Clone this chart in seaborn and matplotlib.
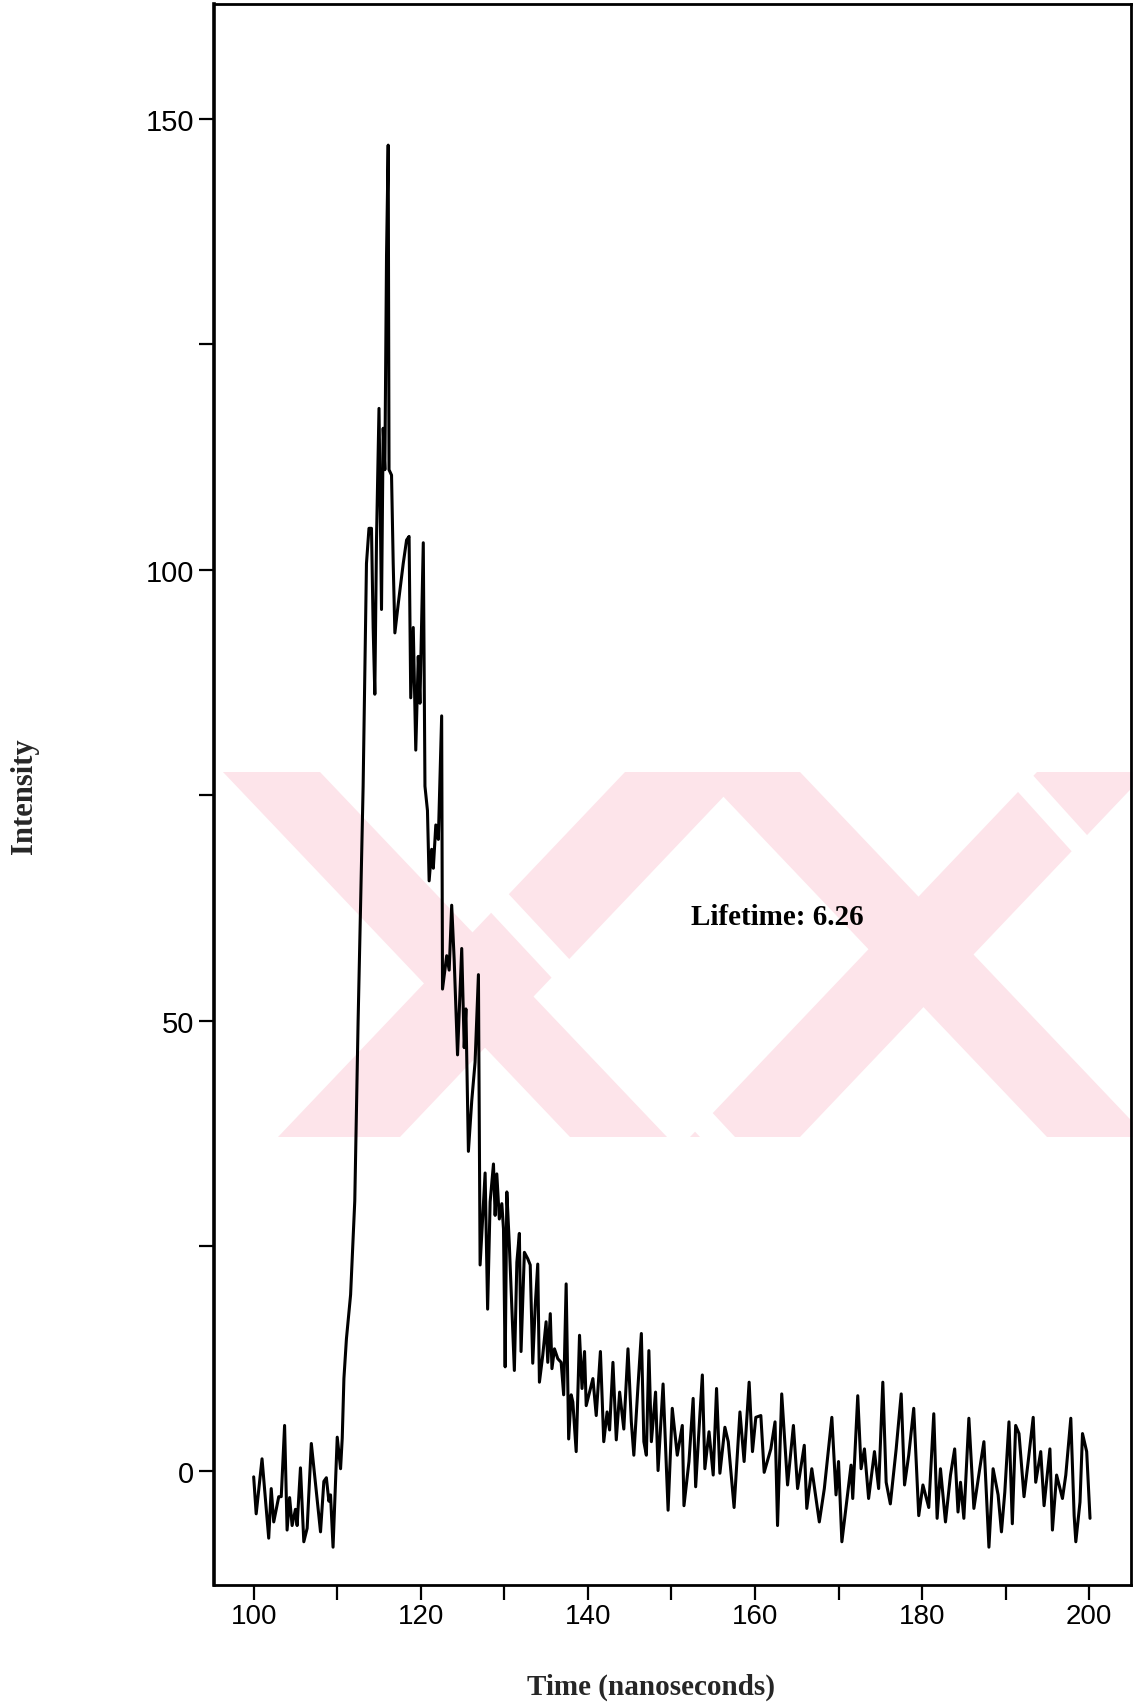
import matplotlib
matplotlib.use("Agg")
import matplotlib.pyplot as plt
from matplotlib.patches import Polygon
import pandas as pd
import seaborn as sns

# Fluorescence decay trace: time (ns) and detector counts
time_ns = [
    100.0, 100.3, 101.0, 101.8, 102.1, 102.4, 103.0, 103.3, 103.7, 104.0,
    104.3, 104.6, 105.0, 105.2, 105.6, 106.0, 106.4, 106.9, 108.0, 108.4,
    108.7, 109.0, 109.2, 109.5, 110.0, 110.4, 110.6, 110.8, 111.1, 111.6,
    112.1, 112.5, 113.1, 113.5, 113.8, 114.1, 114.3, 114.5, 114.7, 115.0,
    115.3, 115.5, 115.7, 115.9, 116.1, 116.2, 116.5, 116.7, 116.9, 117.3,
    117.9, 118.3, 118.6, 118.8, 119.1, 119.4, 119.7, 119.9, 120.3, 120.5,
    120.8, 121.0, 121.3, 121.5, 121.8, 122.1, 122.5, 122.6, 123.1, 123.4,
    123.7, 124.0, 124.4, 124.9, 125.2, 125.4, 125.7, 126.1, 126.5, 126.9,
    127.1, 127.7, 128.0, 128.3, 128.7, 128.9, 129.1, 129.4, 129.7, 129.9,
    130.1, 130.3, 130.6, 131.2, 131.5, 131.8, 132.0, 132.4, 132.8, 133.1,
    133.4, 133.7, 134.0, 134.2, 134.6, 135.0, 135.2, 135.5, 135.7, 136.0,
    136.4, 136.8, 137.1, 137.4, 137.7, 138.0, 138.2, 138.6, 139.0, 139.3,
    139.6, 139.8, 140.2, 140.6, 141.0, 141.5, 141.9, 142.3, 142.6, 143.0,
    143.4, 143.8, 144.3, 144.8, 145.2, 145.5, 146.0, 146.4, 146.7, 147.0,
    147.3, 147.6, 148.1, 148.4, 149.0, 149.6, 150.1, 150.7, 151.3, 151.5,
    152.1, 152.6, 152.9, 153.4, 153.7, 154.0, 154.5, 155.0, 155.4, 155.8,
    156.4, 156.8, 157.5, 158.2, 158.7, 159.3, 159.7, 160.1, 160.7, 161.1,
    161.9, 162.4, 162.7, 163.2, 163.9, 164.6, 165.1, 165.9, 166.2, 166.8,
    167.7, 168.3, 169.2, 169.7, 170.0, 170.4, 171.5, 171.7, 172.3, 172.7,
    173.1, 173.6, 174.3, 174.8, 175.3, 175.7, 176.2, 176.9, 177.5, 177.9,
    178.4, 179.0, 179.6, 180.1, 180.8, 181.4, 181.8, 182.2, 182.8, 183.4,
    183.9, 184.3, 184.6, 185.0, 185.6, 186.2, 186.9, 187.4, 188.0, 188.5,
    189.1, 189.5, 189.9, 190.4, 190.8, 191.2, 191.6, 192.2, 192.7, 193.3,
    193.6, 194.2, 194.6, 195.3, 195.6, 196.1, 196.8, 197.2, 197.8, 198.2,
    198.4, 198.9, 199.2, 199.7, 200.1,
]
intensity = [
    -0.6, -4.7, 1.4, -7.4, -1.9, -5.6, -2.8, -2.8, 5.1, -6.5,
    -2.9, -6.0, -4.2, -6.0, 0.4, -7.8, -6.3, 3.1, -6.7, -1.1,
    -0.7, -3.3, -2.6, -8.4, 3.8, 0.3, 3.7, 10.3, 14.7, 19.6,
    30.0, 50.0, 76.0, 100.7, 104.6, 104.6, 93.6, 86.2, 103.3, 117.9,
    95.6, 115.7, 111.1, 134.8, 147.1, 111.1, 110.5, 100.7, 93.0, 96.2,
    100.7, 103.3, 103.7, 85.8, 93.6, 80.0, 90.4, 85.2, 103.0, 76.0,
    73.3, 65.5, 69.0, 66.9, 71.7, 70.1, 83.8, 53.5, 57.2, 55.6,
    62.8, 56.7, 46.2, 58.0, 47.0, 51.3, 35.5, 41.1, 45.4, 55.1,
    22.9, 33.1, 18.0, 29.9, 34.1, 28.4, 33.0, 28.0, 29.7, 26.9,
    11.6, 31.0, 25.1, 11.2, 23.2, 26.4, 13.3, 24.3, 23.6, 22.9,
    12.0, 18.4, 23.0, 9.9, 12.9, 16.6, 12.1, 17.5, 11.4, 13.6,
    12.5, 12.1, 8.5, 20.8, 3.6, 8.5, 7.7, 2.2, 15.1, 9.2,
    13.3, 7.3, 8.8, 10.3, 6.2, 13.3, 3.3, 6.6, 4.6, 12.1,
    3.5, 8.8, 4.7, 13.6, 5.5, 1.8, 9.5, 15.3, 3.3, 1.8,
    13.4, 3.3, 8.8, 0.1, 9.7, -4.3, 7.0, 1.8, 5.1, -3.8,
    1.1, 8.1, -1.7, 6.2, 10.7, 0.3, 4.4, -0.4, 9.2, -0.2,
    4.9, 3.3, -4.0, 6.6, 1.1, 9.9, 2.2, 6.0, 6.2, -0.1,
    2.5, 5.5, -6.0, 8.6, -1.5, 5.1, -1.9, 2.9, -4.1, 0.3,
    -5.6, -1.9, 6.0, -2.6, 1.1, -7.8, 0.7, -3.0, 8.4, 0.3,
    2.5, -3.0, 2.2, -1.9, 9.9, -1.2, -3.6, 2.5, 8.6, -1.5,
    1.8, 7.0, -4.9, -1.5, -4.0, 6.4, -5.2, 0.3, -5.6, -0.4,
    2.5, -4.5, -1.2, -5.2, 5.9, -4.1, 0.3, 3.3, -8.4, 0.3,
    -2.6, -6.7, -2.3, 5.5, -5.8, 5.1, 4.2, -2.8, 1.1, 6.0,
    -1.2, 2.2, -3.8, 2.5, -6.5, -0.4, -3.0, -0.4, 5.9, -4.9,
    -7.8, -3.4, 4.2, 2.2, -5.2,
]

x_major = [100, 120, 140, 160, 180, 200]
x_minor = [110, 130, 150, 170, 190]
y_major = [0, 50, 100, 150]
y_minor = [25, 75, 125]
lifetime_label = "Lifetime: 6.26"

sns.set_theme(style="white")
plt.rcParams["font.family"] = ["Liberation Sans", "DejaVu Sans"]

W, H = 1133, 1708
fig = plt.figure(figsize=(W / 100, H / 100), dpi=100)
fig.patch.set_facecolor("white")

# pale background emblem built from slanted bands (pixel geometry)
pink = "#fde4ea"
T, B = 773, 1138


def band(x_top0, x_top1, x_bot0, x_bot1, color=pink, z=-5):
    pts = [(x_top0, T), (x_top1, T), (x_bot1, B), (x_bot0, B)]
    pts = [(px / W, 1 - py / H) for px, py in pts]
    return Polygon(pts, closed=True, transform=fig.transFigure,
                   facecolor=color, edgecolor="none", zorder=z)


for shape in [
    band(223, 320, 570, 667),
    band(625, 747, 278, 400),
    band(700, 800, 1047, 1147),
    band(1037, 1147, 690, 800),
    band(360, 395, 700, 735, color="white", z=-4),
    band(1000, 1030, 1330, 1360, color="white", z=-4),
]:
    fig.add_artist(shape)

ax = fig.add_axes([0.1885, 0.0714, 0.8097, 0.9254])
ax.set_facecolor("none")

df = pd.DataFrame({"Time": time_ns, "Intensity": intensity})
sns.lineplot(data=df, x="Time", y="Intensity", ax=ax, color="black",
             linewidth=2.2, estimator=None, sort=False)

ax.set_xlim(95.2, 205.0)
ax.set_ylim(-12.6, 162.7)
ax.set_xticks(x_major)
ax.set_xticks(x_minor, minor=True)
ax.set_yticks(y_major)
ax.set_yticks(y_minor, minor=True)
ax.tick_params(which="both", direction="out", length=11, width=1.6,
               color="black", bottom=True, left=True)
ax.tick_params(axis="y", which="major", labelsize=21, pad=3,
               labelcolor="black")
ax.tick_params(axis="x", which="major", labelsize=20, pad=2,
               labelcolor="black")

for side in ["left", "right", "top", "bottom"]:
    ax.spines[side].set_visible(True)
    ax.spines[side].set_color("black")
    ax.spines[side].set_linewidth(2.0)
ax.spines["left"].set_linewidth(2.6)

serif = ["Liberation Serif", "DejaVu Serif"]
ax.set_xlabel("Time (nanoseconds)", fontsize=21, fontweight="bold",
              family=serif, va="center")
ax.xaxis.set_label_coords(0.477, -0.064)
ax.set_ylabel("Intensity", fontsize=22, fontweight="bold", family=serif,
              va="center")
ax.yaxis.set_label_coords(-0.2065, 0.5)

ax.text(152.4, 61.5, lifetime_label, fontsize=21, fontweight="bold",
        family=serif, ha="left", va="center", color="black")

fig.savefig("out.png", dpi=100)
